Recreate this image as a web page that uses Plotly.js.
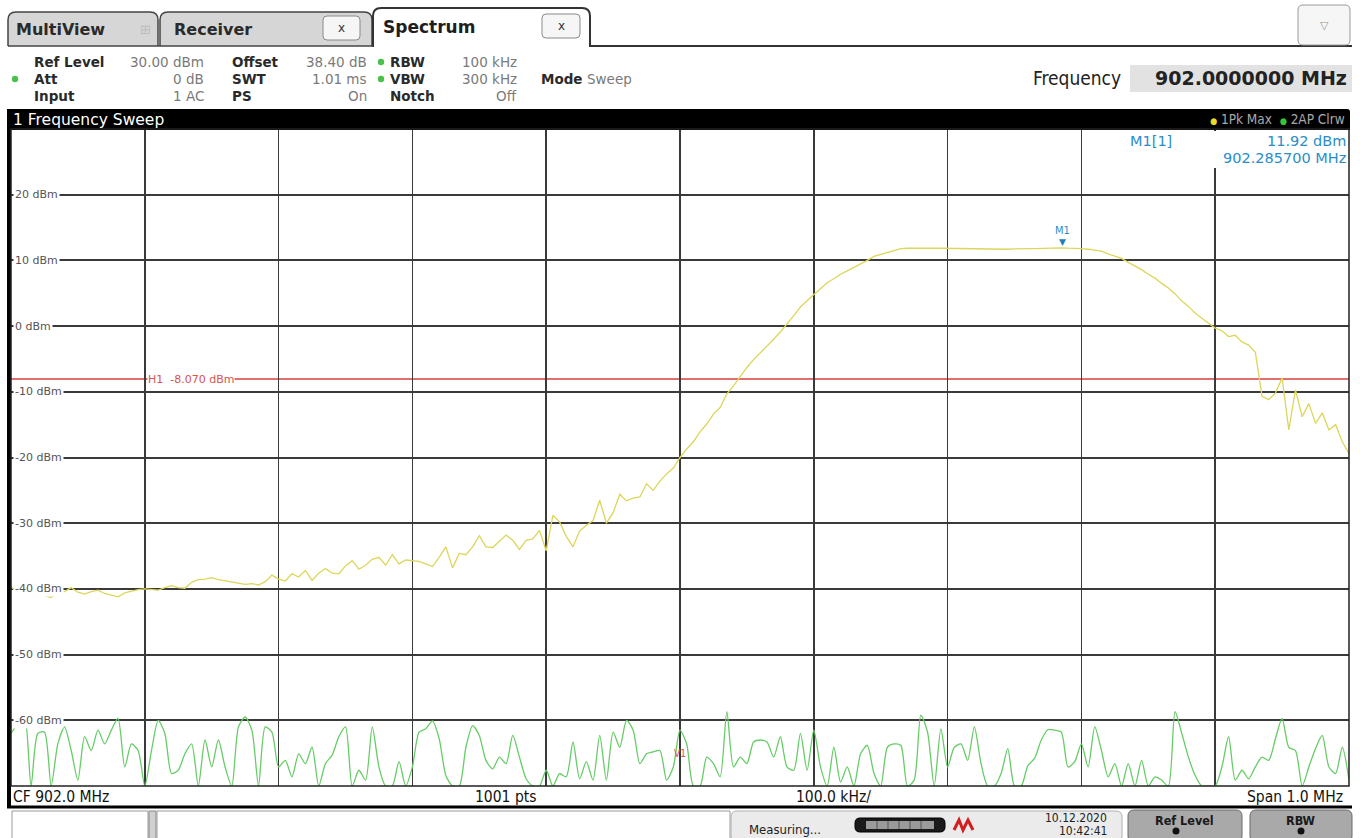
<!DOCTYPE html>
<html><head><meta charset="utf-8">
<script src="https://cdn.plot.ly/plotly-3.0.1.min.js"></script>
<style>html,body{margin:0;padding:0;background:#fff;overflow:hidden}#chart{width:1360px;height:838px}</style>
</head><body><div id="chart"></div>
<script>
// ---------------- data ----------------
const CENTER_MHZ = 902.0;
const SPAN_MHZ = 1.0;
const Y_TOP = 30;
const Y_BOTTOM = -70;
const Y_TICKS = [20, 10, 0, -10, -20, -30, -40, -50, -60];
const Y_TICK_TEXT = ['20 dBm', '10 dBm', '0 dBm', '-10 dBm', '-20 dBm', '-30 dBm', '-40 dBm', '-50 dBm', '-60 dBm'];
const H1_LEVEL = -8.07;
const H1_LABEL = 'H1  -8.070 dBm';
const V1_FREQ = 902.0;
const M1_FREQ = 902.2857;
const M1_LEVEL = 11.92;

// Trace 1: 1Pk Max (yellow), 201 points across the span
const trace1PkMax = [
-39.7,-40.5,-40.8,-40.2,-40.3,-41.0,-41.3,-40.6,-40.4,-39.8,
-40.5,-40.8,-40.4,-40.2,-40.7,-41.0,-41.2,-40.6,-40.3,-40.1,
-40.0,-40.1,-40.2,-39.8,-39.5,-39.8,-39.9,-39.0,-38.6,-38.5,
-38.3,-38.6,-38.8,-39.0,-39.1,-39.3,-39.2,-39.4,-38.9,-37.9,
-38.5,-38.8,-37.7,-38.2,-37.2,-38.7,-37.6,-36.9,-37.6,-37.7,
-36.5,-35.7,-37.0,-36.4,-35.5,-35.2,-36.4,-34.8,-36.2,-35.6,
-35.7,-35.8,-36.2,-36.6,-35.2,-33.6,-36.8,-34.6,-34.8,-33.6,
-31.9,-33.6,-33.7,-32.8,-31.8,-32.6,-34.0,-32.6,-32.4,-31.1,
-34.2,-28.8,-29.8,-32.0,-33.6,-31.2,-30.3,-29.6,-26.5,-30.0,
-28.4,-25.6,-26.6,-26.2,-26.0,-24.0,-25.0,-23.6,-22.5,-21.6,
-20.0,
-18.7,-17.6,-16.1,-14.9,-13.4,-12.4,-10.3,-9.1,-7.7,-6.3,
-5.1,-4.1,-3.0,-2.0,-0.9,0.3,1.6,2.9,3.9,4.8,
5.7,6.6,7.2,7.9,8.4,8.9,9.5,10.0,10.6,10.9,
11.3,11.6,11.8,11.85,11.88,11.9,11.87,11.88,11.85,11.83,
11.8,11.82,11.78,11.8,11.75,11.7,11.72,11.66,11.7,11.74,
11.72,11.78,11.8,11.84,11.8,11.87,11.92,11.86,11.88,11.8,
11.7,11.6,11.4,11.0,10.7,10.3,9.7,9.2,8.6,7.9,
7.3,6.5,5.8,4.9,3.8,3.0,2.0,1.2,0.5,-0.3,
-0.7,-1.6,-1.4,-2.4,-2.9,-4.0,-10.7,-11.2,-10.2,-7.9,
-15.8,-9.7,-13.8,-11.8,-14.8,-13.2,-15.8,-15.0,-17.6,-19.4
];

// Trace 2: AP Clrw (green), 201 points across the span
const trace2APClrw = [
-62.0,-60.5,-59.3,-70,-62.0,-61.8,-70,-63.6,-61.0,-64.6,
-69.1,-62.5,-64.6,-61.5,-63.6,-61.5,-59.7,-67.1,-63.6,-64.6,
-70,-64.6,-60.0,-62.0,-68.1,-67.6,-65.1,-63.6,-70,-63.0,
-67.1,-63.0,-67.1,-70,-61.0,-59.5,-61.5,-70,-61.0,-61.8,
-67.1,-66.1,-68.6,-65.1,-66.6,-64.1,-70,-66.6,-65.3,-62.5,
-61.0,-70,-67.6,-69.1,-61.0,-67.1,-70,-70,-66.3,-70,
-67.1,-61.8,-61.3,-60.1,-62.8,-68.4,-70,-70,-64.1,-60.8,
-62.3,-66.1,-67.4,-65.6,-66.6,-62.3,-65.6,-68.9,-70,-70,
-67.6,-70,-68.1,-68.6,-63.3,-68.9,-66.3,-69.1,-62.3,-69.1,
-61.8,-64.1,-60.0,-61.5,-66.6,-65.1,-64.8,-64.6,-69.1,-67.1,
-61.5,-63.6,-70,-70,-65.6,-66.6,-68.6,-58.7,-67.1,-65.6,
-66.6,-63.3,-63.0,-63.3,-65.6,-62.5,-67.1,-67.6,-62.0,-67.6,
-61.5,-67.1,-70,-64.1,-69.4,-67.1,-70,-65.1,-63.8,-68.1,
-70,-64.1,-63.6,-63.8,-70,-69.1,-59.2,-61.8,-70,-61.3,
-67.1,-64.1,-63.6,-66.1,-61.0,-66.6,-70,-70,-68.1,-64.3,
-70,-70,-66.9,-65.8,-63.0,-61.4,-61.5,-61.8,-67.1,-66.3,
-63.6,-67.1,-61.0,-64.6,-68.6,-66.6,-70,-66.6,-70,-66.1,
-70,-68.6,-69.1,-70,-58.7,-62.0,-65.6,-68.4,-70,-70,
-70,-67.1,-62.5,-69.1,-67.6,-68.9,-67.1,-65.6,-66.1,-62.8,
-59.7,-64.1,-64.6,-70,-67.1,-64.3,-62.3,-67.1,-68.1,-64.1,
-69.1
];

const F_START = CENTER_MHZ - SPAN_MHZ / 2;
const F_STOP = CENTER_MHZ + SPAN_MHZ / 2;
const freqs = trace1PkMax.map((_, i) => F_START + i * SPAN_MHZ / (trace1PkMax.length - 1));

// ---------------- layout helpers (pixel -> paper) ----------------
const PL = 11, PR = 1349, PT = 129, PB = 786;
const px = x => (x - PL) / (PR - PL);
const py = y => (PB - y) / (PB - PT);
const SANS = 'DejaVu Sans';
const COND = 'DejaVu Sans Condensed, DejaVu Sans';
const BLUE = '#2b8dc8';
const RED = '#d9534f';

function txt(x, y, text, o = {}) {
  return {
    xref: 'paper', yref: 'paper', x: px(x), y: py(y), text: text, showarrow: false,
    xanchor: o.anchor || 'left', yanchor: 'middle',
    font: {family: o.family || SANS, size: o.size || 13, color: o.color || '#222'},
    bgcolor: o.bg || 'rgba(0,0,0,0)', borderpad: 0
  };
}
function rect(x0, y0, x1, y1, fill, line, lw, layer) {
  return {type: 'rect', xref: 'paper', yref: 'paper', x0: px(x0), x1: px(x1), y0: py(y1), y1: py(y0),
    fillcolor: fill, line: {color: line || 'rgba(0,0,0,0)', width: lw || 0}, layer: layer || 'above'};
}
function roundBox(x0, y0, x1, y1, r, fill, line, lw, topOnly) {
  const P = (x, y) => px(x) + ',' + py(y);
  let d;
  if (topOnly) {
    d = 'M' + P(x0, y1) + ' L' + P(x0, y0 + r) + ' Q' + P(x0, y0) + ' ' + P(x0 + r, y0) +
        ' L' + P(x1 - r, y0) + ' Q' + P(x1, y0) + ' ' + P(x1, y0 + r) + ' L' + P(x1, y1);
  } else {
    d = 'M' + P(x0, y1 - r) + ' L' + P(x0, y0 + r) + ' Q' + P(x0, y0) + ' ' + P(x0 + r, y0) +
        ' L' + P(x1 - r, y0) + ' Q' + P(x1, y0) + ' ' + P(x1, y0 + r) + ' L' + P(x1, y1 - r) +
        ' Q' + P(x1, y1) + ' ' + P(x1 - r, y1) + ' L' + P(x0 + r, y1) + ' Q' + P(x0, y1) + ' ' + P(x0, y1 - r) + ' Z';
  }
  return {type: 'path', xref: 'paper', yref: 'paper', path: d, fillcolor: fill,
    line: {color: line || 'rgba(0,0,0,0)', width: lw || 0}, layer: 'above'};
}
function dot(x, y, r, color) {
  return {type: 'circle', xref: 'paper', yref: 'paper', x0: px(x - r), x1: px(x + r), y0: py(y + r), y1: py(y - r),
    fillcolor: color, line: {width: 0}, layer: 'above'};
}
function hline(x0, x1, y, color, w) {
  return {type: 'line', xref: 'paper', yref: 'paper', x0: px(x0), x1: px(x1), y0: py(y), y1: py(y), line: {color, width: w}, layer: 'above'};
}

// ---------------- shapes ----------------
const shapes = [];
// tabs
shapes.push(roundBox(8, 12, 158, 46, 8, '#d6d6d6', '#444', 1.5, true));
shapes.push(roundBox(160, 12, 372, 46, 8, '#d6d6d6', '#444', 1.5, true));
shapes.push(roundBox(323, 16, 360, 40, 4, '#f6f6f6', '#8a8a8a', 1));
shapes.push(roundBox(373, 8, 590, 47, 8, '#ffffff', '#333', 2, true));
shapes.push(roundBox(542, 14, 580, 38, 4, '#f6f6f6', '#8a8a8a', 1));
shapes.push(hline(590, 1352, 46, '#333', 2));
shapes.push(hline(8, 373, 46, '#444', 1.5));
shapes.push(roundBox(1298, 5, 1350, 45, 5, '#f6f6f6', '#9a9a9a', 1));
// green status dots
shapes.push(dot(15, 79, 3.2, '#4cc04c'));
shapes.push(dot(381, 62, 3.2, '#4cc04c'));
shapes.push(dot(381, 79, 3.2, '#4cc04c'));
// frequency value box
shapes.push(rect(1130, 65, 1352, 92, '#e2e2e2'));
// diagram title bar
shapes.push(roundBox(8, 109, 1350, 130, 3, '#000000', '#000', 0, true));
// left thick edge
shapes.push(rect(7, 109, 11, 808, '#000'));
// white box behind marker info
shapes.push(rect(1190, 131, 1348, 168, '#ffffff'));
// plot frame
shapes.push({type: 'rect', xref: 'paper', yref: 'paper', x0: 0, x1: 1, y0: 0, y1: 1, line: {color: '#222', width: 1.5}, layer: 'above'});
// H1 display line
shapes.push({type: 'line', xref: 'paper', yref: 'y', x0: 0, x1: 1, y0: H1_LEVEL, y1: H1_LEVEL,
  line: {color: '#e07070', width: 2}, layer: 'below'});
// V1 display line
shapes.push({type: 'line', xref: 'x', yref: 'paper', x0: V1_FREQ, x1: V1_FREQ, y0: 0, y1: 1,
  line: {color: '#e07070', width: 1}, layer: 'below'});
// status bar
shapes.push(rect(11, 787, 1349, 806, '#ffffff'));
shapes.push(hline(7, 1352, 807, '#000', 3));
// softkey row
shapes.push(rect(12, 811, 148, 840, '#ffffff', '#9a9a9a', 1));
shapes.push(rect(149, 811, 156, 840, '#d0d0d0', '#888', 1));
shapes.push(rect(157, 811, 730, 840, '#ffffff', '#9a9a9a', 1));
shapes.push(roundBox(731, 811, 1122, 842, 6, '#ebebeb', '#b0b0b0', 1));
shapes.push(roundBox(855, 818, 945, 832, 5, '#1a1a1a', '#000', 1));
shapes.push(rect(866, 821, 934, 829, '#9a9a9a'));
[877, 888, 899, 910, 921].forEach(x => shapes.push({type: 'line', xref: 'paper', yref: 'paper',
  x0: px(x), x1: px(x), y0: py(821), y1: py(829), line: {color: '#555', width: 1}, layer: 'above'}));
shapes.push({type: 'path', xref: 'paper', yref: 'paper', layer: 'above',
  path: 'M' + px(954) + ',' + py(830) + ' L' + px(959) + ',' + py(820) + ' L' + px(963) + ',' + py(830) +
        ' L' + px(968) + ',' + py(820) + ' L' + px(973) + ',' + py(830), line: {color: '#d21e1e', width: 3}});
shapes.push(roundBox(1128, 810, 1242, 842, 6, '#a9a9a9', '#6a6a6a', 1));
shapes.push(roundBox(1250, 810, 1352, 842, 6, '#a9a9a9', '#6a6a6a', 1));
shapes.push(dot(1176, 831, 3.5, '#111'));
shapes.push(dot(1301, 831, 3.5, '#111'));

// ---------------- annotations ----------------
const ann = [];
ann.push(txt(15, 29, '<b>MultiView</b>', {size: 16, color: '#2a2a2a'}));
ann.push(txt(145, 29, '⊞', {size: 13, color: '#bdbdbd', anchor: 'center'}));
ann.push(txt(173, 29, '<b>Receiver</b>', {size: 16, color: '#2a2a2a'}));
ann.push(txt(341, 28, 'x', {size: 12, color: '#333', anchor: 'center'}));
ann.push(txt(382, 27, '<b>Spectrum</b>', {size: 17, color: '#1e1e1e'}));
ann.push(txt(561, 26, 'x', {size: 12, color: '#333', anchor: 'center'}));
ann.push(txt(1324, 25, '▽', {size: 11, color: '#9a9a9a', anchor: 'center'}));

// header rows
const R1 = 62, R2 = 79, R3 = 96;
const LBL = {size: 13.5, color: '#2a2a2a'};
const VAL = {size: 13.5, color: '#7a7a7a'};
ann.push(txt(33, R1, '<b>Ref Level</b>', LBL));
ann.push(txt(205, R1, '30.00 dBm', Object.assign({anchor: 'right'}, VAL)));
ann.push(txt(33, R2, '<b>Att</b>', LBL));
ann.push(txt(205, R2, '0 dB', Object.assign({anchor: 'right'}, VAL)));
ann.push(txt(33, R3, '<b>Input</b>', LBL));
ann.push(txt(205, R3, '1 AC', Object.assign({anchor: 'right'}, VAL)));
ann.push(txt(231, R1, '<b>Offset</b>', LBL));
ann.push(txt(368, R1, '38.40 dB', Object.assign({anchor: 'right'}, VAL)));
ann.push(txt(231, R2, '<b>SWT</b>', LBL));
ann.push(txt(368, R2, '1.01 ms', Object.assign({anchor: 'right'}, VAL)));
ann.push(txt(231, R3, '<b>PS</b>', LBL));
ann.push(txt(368, R3, 'On', Object.assign({anchor: 'right'}, VAL)));
ann.push(txt(389, R1, '<b>RBW</b>', LBL));
ann.push(txt(518, R1, '100 kHz', Object.assign({anchor: 'right'}, VAL)));
ann.push(txt(389, R2, '<b>VBW</b>', LBL));
ann.push(txt(518, R2, '300 kHz', Object.assign({anchor: 'right'}, VAL)));
ann.push(txt(389, R3, '<b>Notch</b>', LBL));
ann.push(txt(518, R3, 'Off', Object.assign({anchor: 'right'}, VAL)));
ann.push(txt(540, R2, '<b>Mode</b>', LBL));
ann.push(txt(586, R2, 'Sweep', VAL));
ann.push(txt(1122, 78, 'Frequency', {size: 19, color: '#222', family: COND, anchor: 'right'}));
ann.push(txt(1348, 78, '<b>902.0000000 MHz</b>', {size: 19, color: '#222', anchor: 'right'}));

// diagram title bar
ann.push(txt(12, 120, '1 Frequency Sweep', {size: 15.5, color: '#ffffff'}));
ann.push(txt(1346, 119, '<span style="color:#e8dc2a;font-size:9px">●</span> 1Pk Max  <span style="color:#36c636;font-size:9px">●</span> 2AP Clrw',
  {size: 13.5, color: '#a8a8a8', anchor: 'right', family: COND}));

// y-axis labels (inside the diagram, with white background)
Y_TICKS.forEach((v, i) => ann.push({xref: 'paper', yref: 'y', x: px(13), y: v, text: Y_TICK_TEXT[i],
  showarrow: false, xanchor: 'left', yanchor: 'middle', bgcolor: '#ffffff', borderpad: 1,
  font: {family: SANS, size: 11, color: '#555'}}));

// marker info
ann.push(txt(1129, 141, 'M1[1]', {size: 14.5, color: BLUE}));
ann.push(txt(1347, 141, M1_LEVEL.toFixed(2) + ' dBm', {size: 14.5, color: BLUE, anchor: 'right'}));
ann.push(txt(1347, 158, (M1_FREQ).toFixed(6) + ' MHz', {size: 14.5, color: BLUE, anchor: 'right'}));

// marker glyph on trace
ann.push({xref: 'x', yref: 'y', x: M1_FREQ, y: M1_LEVEL, text: 'M1', showarrow: false, yshift: 17,
  font: {family: COND, size: 11, color: BLUE}});
ann.push({xref: 'x', yref: 'y', x: M1_FREQ, y: M1_LEVEL, text: '▼', showarrow: false, yshift: 6,
  font: {family: SANS, size: 9, color: '#1f7fc0'}});

// H1 label
ann.push({xref: 'paper', yref: 'y', x: px(147), y: H1_LEVEL, text: H1_LABEL, showarrow: false, xanchor: 'left',
  yanchor: 'middle', bgcolor: '#ffffff', borderpad: 0, font: {family: SANS, size: 11, color: RED}});
// V1 label
ann.push({xref: 'x', yref: 'paper', x: V1_FREQ, y: py(753), text: 'V1', showarrow: false, xanchor: 'center',
  yanchor: 'middle', font: {family: COND, size: 10, color: RED}});

// status bar
ann.push(txt(12, 797, 'CF 902.0 MHz', {size: 15.5, family: COND, color: '#111'}));
ann.push(txt(474, 797, '1001 pts', {size: 15.5, family: COND, color: '#111'}));
ann.push(txt(795, 797, '100.0 kHz/', {size: 15.5, family: COND, color: '#111'}));
ann.push(txt(1344, 797, 'Span 1.0 MHz', {size: 15.5, family: COND, color: '#111', anchor: 'right'}));

// softkey row
ann.push(txt(748, 829, 'Measuring...', {size: 13, family: COND, color: '#222'}));
ann.push(txt(1108, 818, '10.12.2020', {size: 12, family: COND, color: '#222', anchor: 'right'}));
ann.push(txt(1108, 831, '10:42:41', {size: 12, family: COND, color: '#222', anchor: 'right'}));
ann.push(txt(1184, 820, '<b>Ref Level</b>', {size: 12.5, family: COND, color: '#1a1a1a', anchor: 'center'}));
ann.push(txt(1301, 820, '<b>RBW</b>', {size: 12.5, family: COND, color: '#1a1a1a', anchor: 'center'}));

// ---------------- traces ----------------
const data = [
  {x: freqs, y: trace2APClrw, type: 'scatter', mode: 'lines', name: '2AP Clrw',
   line: {color: '#66cc66', width: 1.3, shape: 'spline', smoothing: 0.7}, hoverinfo: 'skip'},
  {x: freqs, y: trace1PkMax, type: 'scatter', mode: 'lines', name: '1Pk Max',
   line: {color: '#dcd65a', width: 1.3}, hoverinfo: 'skip'}
];

const layout = {
  width: 1360, height: 838,
  margin: {l: PL, r: 1360 - PR, t: PT, b: 838 - PB, pad: 0},
  paper_bgcolor: '#ffffff', plot_bgcolor: '#ffffff',
  showlegend: false,
  xaxis: {range: [F_START, F_STOP], tick0: F_START, dtick: SPAN_MHZ / 10, showticklabels: false, ticks: '',
    showgrid: true, gridcolor: '#3a3a3a', gridwidth: 1.6, zeroline: false, showline: false, fixedrange: true},
  yaxis: {range: [Y_BOTTOM, Y_TOP], tickvals: Y_TICKS, showticklabels: false,
    ticks: '', showgrid: true, gridcolor: '#3a3a3a', gridwidth: 2, zeroline: false, showline: false,
    fixedrange: true},
  shapes: shapes,
  annotations: ann
};

Plotly.newPlot('chart', data, layout, {staticPlot: true, displayModeBar: false});
</script>
</body></html>
